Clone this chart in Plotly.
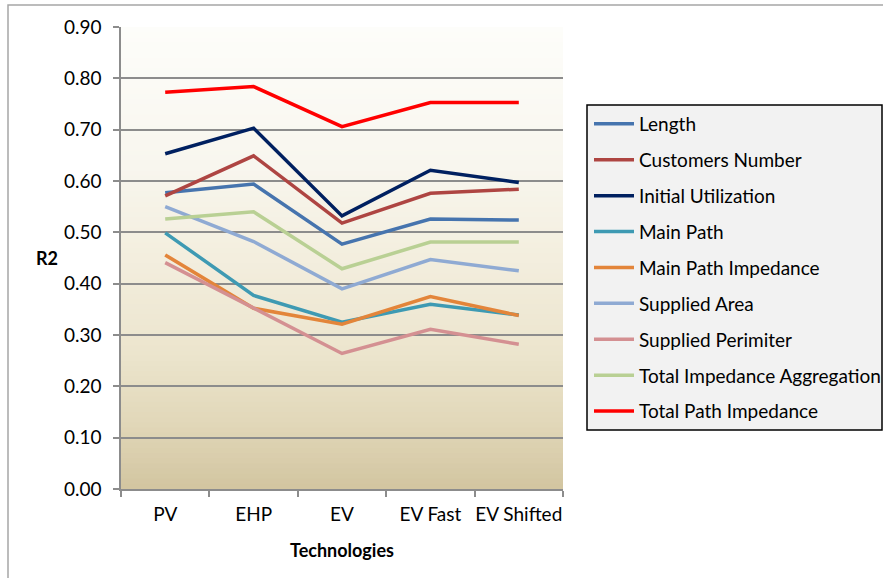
import plotly.graph_objects as go

# Categories and R2 values per attribute
technologies = ["PV", "EHP", "EV", "EV Fast", "EV Shifted"]

length = [0.577, 0.594, 0.477, 0.526, 0.524]
customers_number = [0.571, 0.649, 0.518, 0.576, 0.584]
initial_utilization = [0.653, 0.703, 0.532, 0.621, 0.597]
main_path = [0.499, 0.377, 0.325, 0.360, 0.339]
main_path_impedance = [0.456, 0.352, 0.321, 0.375, 0.338]
supplied_area = [0.550, 0.482, 0.390, 0.447, 0.425]
supplied_perimiter = [0.441, 0.352, 0.264, 0.311, 0.282]
total_impedance_aggregation = [0.526, 0.540, 0.429, 0.481, 0.481]
total_path_impedance = [0.773, 0.784, 0.706, 0.753, 0.753]

y_ticks = [0.0, 0.1, 0.2, 0.3, 0.4, 0.5, 0.6, 0.7, 0.8, 0.9]

series = [
    ("Length", length, "#4674AE"),
    ("Customers Number", customers_number, "#AE4542"),
    ("Initial Utilization", initial_utilization, "#002060"),
    ("Main Path", main_path, "#3E9AB3"),
    ("Main Path Impedance", main_path_impedance, "#E3853A"),
    ("Supplied Area", supplied_area, "#8FAAD3"),
    ("Supplied Perimiter", supplied_perimiter, "#D49092"),
    ("Total Impedance Aggregation", total_impedance_aggregation, "#B9D094"),
    ("Total Path Impedance", total_path_impedance, "#FF0000"),
]

FONT = "Lato, Arial, sans-serif"
FS = 19

fig = go.Figure()
for name, values, color in series:
    fig.add_trace(go.Scatter(
        x=technologies, y=values, name=name, mode="lines",
        line=dict(color=color, width=3.5),
        legendgroup=name,
    ))

# Parchment-style vertical gradient behind the plot area
stops = [
    (0.00, (253, 253, 250)),
    (0.30, (248, 246, 238)),
    (0.50, (243, 238, 222)),
    (0.70, (236, 229, 206)),
    (0.85, (226, 216, 186)),
    (1.00, (210, 197, 160)),
]


def grad_color(f):
    for (f0, c0), (f1, c1) in zip(stops[:-1], stops[1:]):
        if f0 <= f <= f1:
            t = (f - f0) / (f1 - f0)
            return "rgb(%d,%d,%d)" % tuple(round(a + (b - a) * t) for a, b in zip(c0, c1))
    return "rgb(%d,%d,%d)" % stops[-1][1]


ymax = y_ticks[-1]
n_bands = 90
shapes = []
for i in range(n_bands):
    top = ymax - ymax * i / n_bands
    bot = ymax - ymax * (i + 1) / n_bands
    shapes.append(dict(
        type="rect", xref="x domain", yref="y", x0=0, x1=1,
        y0=bot - 0.002, y1=top, layer="below", line_width=0,
        fillcolor=grad_color((i + 0.5) / n_bands),
    ))

# Outer chart frame
pw, ph = 442.0, 462.0
shapes.append(dict(
    type="rect", xref="paper", yref="paper",
    x0=(8 - 121) / pw, x1=(905 - 121) / pw,
    y0=(489 - 600) / ph, y1=1 + (27 - 5) / ph,
    line=dict(color="#a6a6a6", width=1.5), fillcolor="rgba(0,0,0,0)", layer="below",
))
# Legend frame
shapes.append(dict(
    type="rect", xref="paper", yref="paper",
    x0=(587 - 121) / pw, x1=(882 - 121) / pw,
    y0=(489 - 430) / ph, y1=(489 - 105) / ph,
    line=dict(color="#000000", width=1.5), fillcolor="#f2f2f2", layer="above",
))

fig.update_layout(
    width=883, height=578,
    margin=dict(l=121, r=320, t=27, b=89, autoexpand=False),
    paper_bgcolor="white",
    plot_bgcolor="rgba(0,0,0,0)",
    font=dict(family=FONT, size=FS, color="#000000"),
    shapes=shapes,
    showlegend=True,
    legend=dict(
        x=(589 - 121) / pw, y=(489 - 105) / ph, xanchor="left", yanchor="top",
        bgcolor="rgba(0,0,0,0)", borderwidth=0,
        font=dict(family=FONT, size=FS, color="#000000"),
        tracegroupgap=8.2, itemwidth=40,
    ),
    annotations=[dict(
        text="<b>R2</b>", xref="paper", yref="paper",
        x=(47 - 121) / pw, y=(489 - 258) / ph, xanchor="center", yanchor="middle",
        showarrow=False, font=dict(family=FONT, size=18, color="#000000"),
    )],
)

fig.update_xaxes(
    type="category", range=[-0.5, len(technologies) - 0.5],
    showline=True, linecolor="#8c8c8c", linewidth=1.5,
    ticks="outside", tickson="boundaries", ticklen=6, tickcolor="#8c8c8c", tickwidth=1.5,
    showgrid=False, tickfont=dict(family=FONT, size=FS), ticklabelstandoff=7,
    tickangle=0, automargin=False,
    title=dict(text="<b>Technologies</b>", font=dict(family=FONT, size=18), standoff=21),
)
fig.update_yaxes(
    range=[0, ymax], tickvals=y_ticks, tickformat=".2f",
    showline=True, linecolor="#8c8c8c", linewidth=1.5,
    ticks="outside", ticklen=6, tickcolor="#8c8c8c", tickwidth=1.5,
    showgrid=True, gridcolor="#8c8c8c", gridwidth=1.5, automargin=False,
    zeroline=False, tickfont=dict(family=FONT, size=FS), ticklabelstandoff=8,
)

fig.write_html("out.html")
